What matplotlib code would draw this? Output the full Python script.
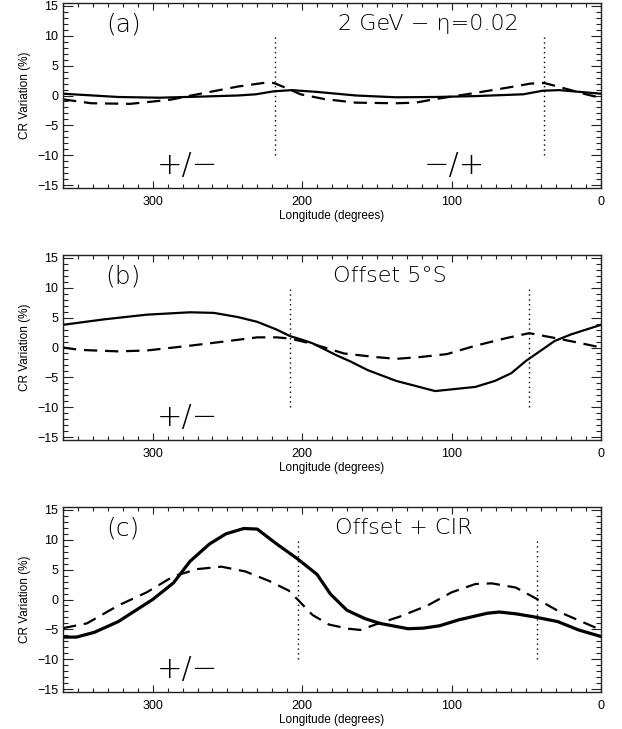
import matplotlib
matplotlib.use("Agg")
import matplotlib.pyplot as plt
from matplotlib.ticker import MultipleLocator
import numpy as np

plt.rcParams['font.family'] = ['Liberation Sans', 'DejaVu Sans']

# ---------------- data ----------------
# Panel (a): 2 GeV - eta=0.02
a_solid_lon = [360, 323, 296, 270, 243, 231, 219, 207, 190, 164, 137, 111, 84, 52, 39, 28, 0]
a_solid_val = [0.3, -0.25, -0.37, -0.2, 0.0, 0.2, 0.7, 0.9, 0.6, 0.0, -0.3, -0.25, -0.1, 0.2, 0.8, 0.9, 0.3]
a_dash_lon = [360, 341, 315, 288, 270, 243, 226, 219, 211, 201, 185, 164, 137, 124, 111, 90, 63, 47, 38, 26, 10, 0]
a_dash_val = [-0.65, -1.3, -1.4, -0.7, 0.2, 1.5, 2.1, 2.1, 1.3, 0.2, -0.6, -1.2, -1.3, -1.2, -0.6, 0.2, 1.3, 2.0, 2.1, 1.3, 0.2, -0.4]
a_bounds = [218, 38]

# Panel (b): Offset 5 deg S
b_solid_lon = [360, 333, 304, 275, 259, 243, 230, 217, 208, 200, 193, 185, 177, 168, 156, 137, 111, 84, 71, 60, 50, 39, 31, 20, 0]
b_solid_val = [3.8, 4.7, 5.5, 5.9, 5.8, 5.1, 4.3, 3.0, 1.9, 1.3, 0.7, -0.3, -1.3, -2.3, -3.8, -5.6, -7.3, -6.6, -5.6, -4.3, -2.2, -0.3, 1.1, 2.2, 3.8]
b_dash_lon = [360, 349, 323, 304, 275, 249, 230, 217, 208, 193, 185, 172, 151, 137, 121, 103, 84, 63, 48, 31, 15, 0]
b_dash_val = [0.0, -0.4, -0.65, -0.5, 0.3, 1.1, 1.7, 1.7, 1.5, 0.6, 0.0, -1.0, -1.6, -1.9, -1.6, -1.1, 0.3, 1.6, 2.4, 1.6, 0.8, 0.0]
b_bounds = [208, 48]

# Panel (c): Offset + CIR
c_solid_lon = [360, 351, 339, 323, 300, 286, 275, 262, 251, 239, 230, 217, 203, 190, 181, 170, 158, 148, 129, 119, 108, 95, 76, 68, 57, 45, 29, 15, 0]
c_solid_val = [-6.3, -6.3, -5.5, -3.7, 0.0, 2.8, 6.4, 9.3, 11.0, 11.9, 11.8, 9.3, 6.8, 4.2, 0.9, -1.8, -3.2, -4.0, -4.9, -4.8, -4.4, -3.4, -2.3, -2.1, -2.4, -2.9, -3.7, -5.1, -6.2]
c_dash_lon = [360, 344, 323, 304, 286, 270, 254, 238, 222, 209, 203, 193, 182, 169, 161, 151, 135, 116, 100, 84, 73, 57, 43, 26, 13, 0]
c_dash_val = [-4.8, -4.0, -1.0, 1.2, 3.9, 5.1, 5.5, 4.7, 3.1, 1.5, 0.0, -2.6, -4.2, -4.9, -5.1, -4.2, -2.9, -1.0, 1.2, 2.6, 2.7, 2.0, 0.1, -2.3, -3.7, -5.1]
c_bounds = [203, 43]

panel_labels = ['(a)', '(b)', '(c)']
titles = ['2 GeV − η=0.02', 'Offset 5°S', 'Offset + CIR']
title_x = [0.68, 0.607, 0.633]
sector_labels = [[(277, '+/−'), (98, '−/+')], [(277, '+/−')], [(277, '+/−')]]

panels = [
    (a_solid_lon, a_solid_val, a_dash_lon, a_dash_val, a_bounds, 1.6),
    (b_solid_lon, b_solid_val, b_dash_lon, b_dash_val, b_bounds, 1.6),
    (c_solid_lon, c_solid_val, c_dash_lon, c_dash_val, c_bounds, 2.3),
]

# ---------------- figure ----------------
fig = plt.figure(figsize=(6.22, 7.29), dpi=100)
left, width = 63 / 622, (601 - 63) / 622
tops = [3, 255, 507]
h = 185
label_font = ['DejaVu Sans']

for i, (sl, sv, dl, dv, bounds, slw) in enumerate(panels):
    ax = fig.add_axes([left, 1 - (tops[i] + h) / 729, width, h / 729])
    ax.plot(sl, sv, color='black', lw=slw, solid_joinstyle='round')
    ax.plot(dl, dv, color='black', lw=1.6, dashes=(6, 3.5))
    for b in bounds:
        ax.plot([b, b], [-10, 10], color='black', lw=1.0, dashes=(1, 2.5))
    ax.set_xlim(360, 0)
    ax.set_ylim(-15.5, 15.5)
    ax.xaxis.set_major_locator(MultipleLocator(100))
    ax.xaxis.set_minor_locator(MultipleLocator(10))
    ax.yaxis.set_minor_locator(MultipleLocator(1))
    ax.set_yticks([15, 10, 5, 0, -5, -10, -15])
    ax.set_yticklabels(['15', '10', '5', '0', '−5', '−10', '−15'])
    ax.tick_params(which='both', direction='in', top=True, right=True,
                   labelsize=9, width=0.8, color='#222222')
    ax.tick_params(which='major', length=7)
    ax.tick_params(which='minor', length=3.5)
    ax.tick_params(axis='x', which='major', length=5, pad=6)
    ax.tick_params(axis='x', which='minor', length=3)
    for s in ax.spines.values():
        s.set_linewidth(1.0)
        s.set_color('#222222')
    ax.set_xlabel('Longitude (degrees)', fontsize=8.5, labelpad=1)
    ax.set_ylabel('CR Variation (%)', fontsize=8.5, labelpad=4)
    ax.text(0.112, 0.885, panel_labels[i], transform=ax.transAxes, fontsize=18,
            ha='center', va='center', family=label_font, fontweight='light', color='black')
    ax.text(title_x[i], 0.885, titles[i], transform=ax.transAxes, fontsize=16,
            ha='center', va='center', family=label_font, fontweight='light', color='black')
    for lon, s in sector_labels[i]:
        ax.text(lon, -11.8, s, fontsize=22, ha='center', va='center',
                family=label_font, fontweight='light', color='black')

fig.savefig('out.png', dpi=100)
